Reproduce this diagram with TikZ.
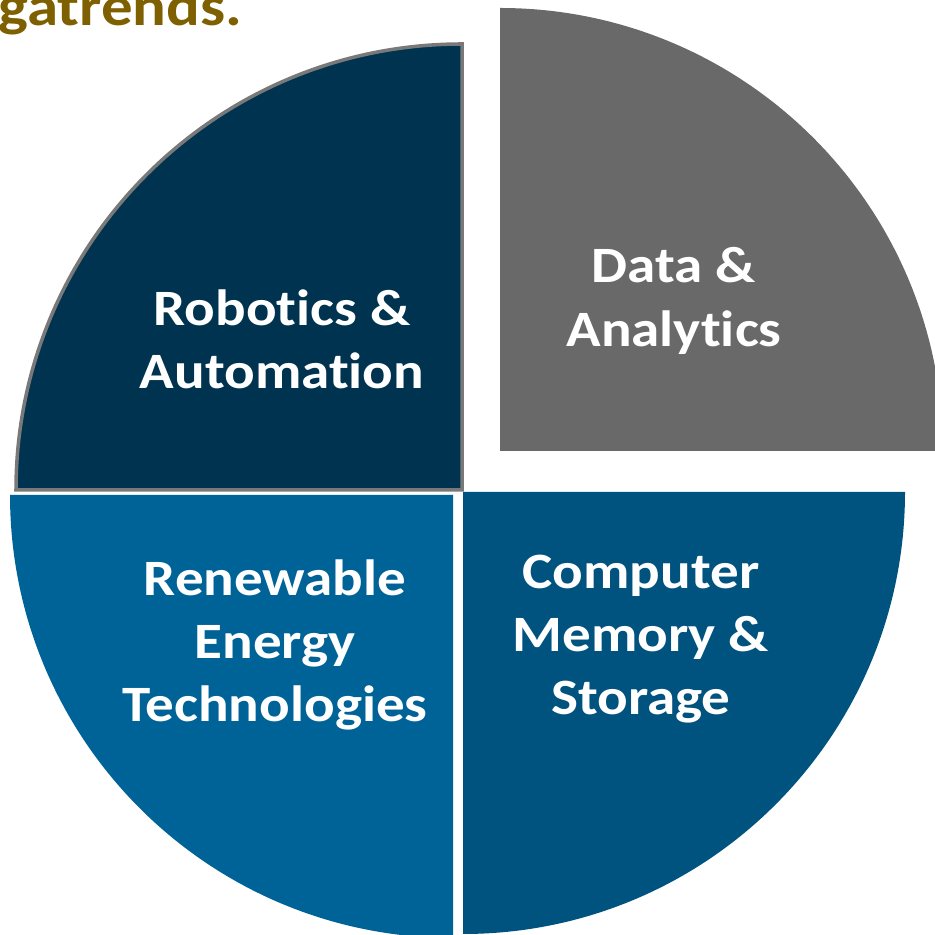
\documentclass[tikz,border=0pt]{standalone}
\usepackage{fontspec}
\setmainfont{Carlito}[Ligatures=NoCommon, FakeStretch=1.12]
\definecolor{robonavy}{HTML}{00334F}
\definecolor{datagray}{HTML}{696969}
\definecolor{energyblue}{HTML}{006398}
\definecolor{memoryblue}{HTML}{00527F}
\definecolor{titleolive}{HTML}{7F6000}

\begin{document}
\begin{tikzpicture}[
    x = 0.02cm, y = 0.02cm,
      label/.style={text=white, font=\fontsize{29}{36}\selectfont\bfseries, align=center, inner sep=0pt},
      title/.style={text=titleolive, font=\fontsize{32}{36}\selectfont\bfseries, inner sep=0pt}
  ]
      \clip (0, 0) rectangle (935, 935);
      \useasboundingbox (0, 0) rectangle (935, 935);

      % Robotics slice
      \fill[robonavy, draw=gray!95!black, line width=2] (462, 445) -- (462, 891) arc[start angle=90, end angle=180, radius=446] -- cycle;

      % Data slice
      \fill[datagray] (500, 484) -- (943, 484) arc[start angle=0, end angle=90, radius=443] -- cycle;

      % Energy slice
      \fill[energyblue] (453, 440) -- (10, 440) arc[start angle=180, end angle=270, radius=443] -- cycle;

      % Memory slice
      \fill[memoryblue] (463, 443) -- (463, 1) arc[start angle=270, end angle=360, radius=442] -- cycle;

      % Labels
      \node (robotics) at (282, 596) [label] {Robotics \&\\Automation};
      \node (data) at (674, 634) [label] {Data \&\\Analytics};
      \node (energy) at (275, 290) [label] {Renewable\\Energy\\Technologies};
      \node (memory) at (641, 296) [label] {Computer\\Memory \&\\Storage};

      % Title
      \node (title) at (-2, 909) [title, anchor=base west] {gatrends.};
  \end{tikzpicture}
\end{document}
